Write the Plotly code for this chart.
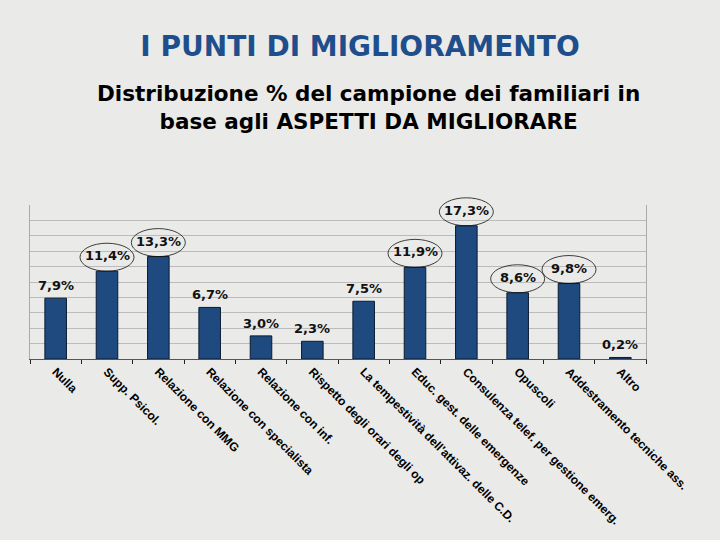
import plotly.graph_objects as go

categories = [
    "Nulla", "Supp. Psicol.", "Relazione con MMG", "Relazione con specialista",
    "Relazione con inf.", "Rispetto degli orari degli op",
    "La tempestività dell'attivaz. delle C.D.", "Educ. gest. delle emergenze",
    "Consulenza telef. per gestione emerg.", "Opuscoli",
    "Addestramento tecniche ass.", "Altro",
]
values = [7.9, 11.4, 13.3, 6.7, 3.0, 2.3, 7.5, 11.9, 17.3, 8.6, 9.8, 0.2]
labels = ["7,9%", "11,4%", "13,3%", "6,7%", "3,0%", "2,3%", "7,5%",
          "11,9%", "17,3%", "8,6%", "9,8%", "0,2%"]
circled = [False, True, True, False, False, False, False, True, True, True, True, False]

YMAX = 20
BAR = "#1F4A80"
BG = "#EAEAE8"
LABEL_FONT = "DejaVu Sans"

W, H = 720, 540
ML, MR, MT, MB = 30, 74, 205, 178
PLOT_H = H - MT - MB

fig = go.Figure()
fig.add_trace(go.Bar(
    x=categories, y=values,
    marker=dict(color=BAR, line=dict(color="#0A1A30", width=1)),
    width=0.42,
    hoverinfo="skip",
))

annotations = []
shapes = []
for cat, v, lab, c in zip(categories, values, labels, circled):
    annotations.append(dict(
        x=cat, y=v, xref="x", yref="y", text="<b>%s</b>" % lab,
        showarrow=False, yanchor="bottom", yshift=6 if c else 3,
        font=dict(family=LABEL_FONT, size=13, color="#111111"),
    ))
    if c:
        shapes.append(dict(
            type="circle", xref="x", yref="paper",
            xsizemode="pixel", ysizemode="pixel",
            xanchor=cat, yanchor=v / YMAX,
            x0=-27, x1=27, y0=0, y1=28,
            line=dict(color="#111111", width=0.8),
            fillcolor="rgba(0,0,0,0)",
        ))

# subtitle (two lines)
annotations.append(dict(
    x=(368 - ML) / (W - ML - MR), y=(H - MB - 106) / PLOT_H,
    xref="paper", yref="paper", showarrow=False,
    xanchor="center", yanchor="middle",
    text="<b>Distribuzione % del campione dei familiari in<br>base agli ASPETTI DA MIGLIORARE</b>",
    font=dict(family="DejaVu Sans", size=21.5, color="#000000"),
))

fig.update_layout(
    width=W, height=H,
    margin=dict(l=ML, r=MR, t=MT, b=MB),
    paper_bgcolor=BG, plot_bgcolor=BG,
    showlegend=False,
    title=dict(
        text="<b>I PUNTI DI MIGLIORAMENTO</b>",
        x=0.5, xanchor="center", xref="container",
        y=1 - 46 / H, yanchor="middle", yref="container",
        font=dict(family="DejaVu Sans", size=28, color="#1F4E8C"),
    ),
    annotations=annotations,
    shapes=shapes,
    xaxis=dict(
        type="category", tickangle=45, tickson="boundaries",
        ticks="outside", ticklen=4, tickcolor="#222222",
        showgrid=False, showline=True, linecolor="#555555", linewidth=1,
        tickfont=dict(family="Liberation Sans", size=12, color="#000000", weight="bold"),
        range=[-0.5, len(categories) - 0.5],
    ),
    yaxis=dict(
        range=[0, YMAX], dtick=2, showticklabels=False,
        showgrid=True, gridcolor="#BBBBBB", gridwidth=1,
        showline=True, linecolor="#AAAAAA", mirror=True,
        zeroline=False, ticks="",
    ),
    bargap=0.58,
)

fig.write_html(
    "out.html",
    config={"displayModeBar": False},
    post_script="document.body.style.margin='0px';document.body.style.background='%s';" % BG,
)
